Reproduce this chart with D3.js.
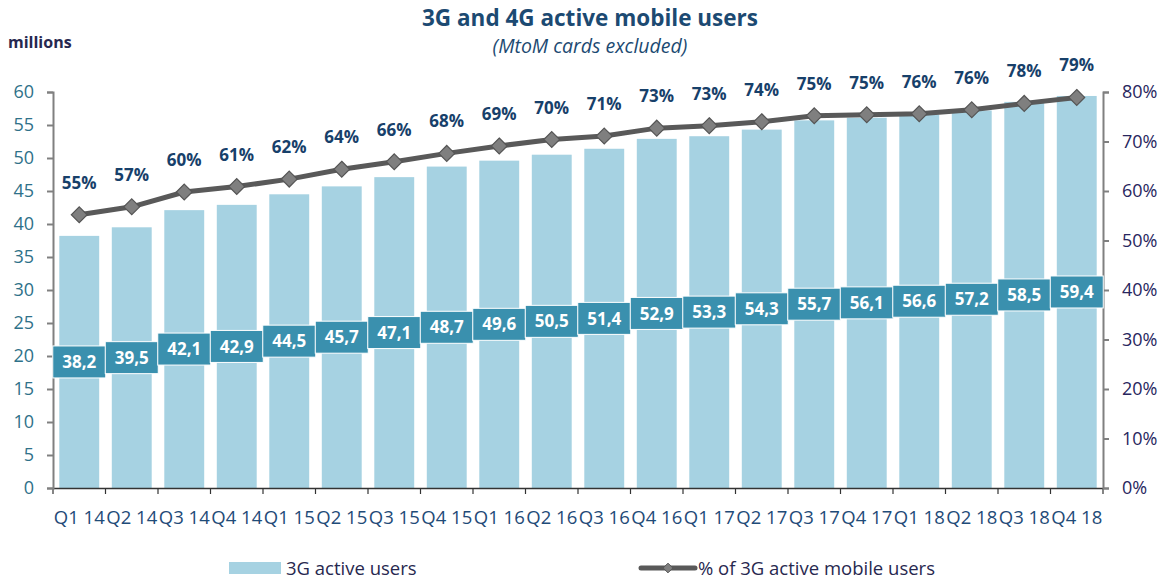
<!doctype html>
<html lang="en">
  <head>
    <meta charset="utf-8">
    <title>3G and 4G active mobile users</title>
    <script src="https://d3js.org/d3.v7.min.js"></script>
    <style>
      body { margin: 0; background: #fff; }
      svg text { font-family: "Open Sans", "Noto Sans", sans-serif; }
    </style>
  </head>
  <body>
    <div id="chart"></div>
    <script>
      // data
      const quarters = ['Q1 14','Q2 14','Q3 14','Q4 14','Q1 15','Q2 15','Q3 15','Q4 15',
                        'Q1 16','Q2 16','Q3 16','Q4 16','Q1 17','Q2 17','Q3 17','Q4 17',
                        'Q1 18','Q2 18','Q3 18','Q4 18'];
      const activeUsers = [38.2, 39.5, 42.1, 42.9, 44.5, 45.7, 47.1, 48.7, 49.6, 50.5,
                           51.4, 52.9, 53.3, 54.3, 55.7, 56.1, 56.6, 57.2, 58.5, 59.4];
      const activeShare = [55.2, 56.8, 59.8, 60.9, 62.4, 64.4, 65.9, 67.6, 69.1, 70.4,
                           71.1, 72.7, 73.2, 74.0, 75.2, 75.4, 75.6, 76.4, 77.7, 78.9];
      const leftTicks = [0, 5, 10, 15, 20, 25, 30, 35, 40, 45, 50, 55, 60];
      const rightTicks = [0, 10, 20, 30, 40, 50, 60, 70, 80];

      const w = 1169;
      const h = 581;
      const plotLeft = 53, plotRight = 1103, plotTop = 92, plotBottom = 488;

      const itFmt = d3.formatLocale({decimal: ',', thousands: '.', grouping: [3], currency: ['', '€']});
      const oneDec = itFmt.format('.1f');

      const svg = d3.select('#chart').append('svg')
          .attr('width', w)
          .attr('height', h)

      const x = d3.scaleBand()
          .domain(quarters)
          .range([plotLeft, plotRight])
          .paddingInner(0.24)
          .paddingOuter(0.12)

      const xBand = d3.scaleBand()
          .domain(quarters)
          .range([plotLeft, plotRight])

      const yLeft = d3.scaleLinear().domain([0, 60]).range([plotBottom, plotTop])
      const yRight = d3.scaleLinear().domain([0, 80]).range([plotBottom, plotTop])

      // title
      svg.append('text')
        .attr('x', 590).attr('y', 26)
        .attr('text-anchor', 'middle')
        .attr('font-size', 22.5).attr('font-weight', 700)
        .attr('fill', '#1c4a72')
        .text('3G and 4G active mobile users')
      svg.append('text')
        .attr('x', 590).attr('y', 53)
        .attr('text-anchor', 'middle')
        .attr('font-size', 19.5).attr('font-style', 'italic')
        .attr('fill', '#1c4a72')
        .text('(MtoM cards excluded)')
      svg.append('text')
        .attr('x', 8).attr('y', 48)
        .attr('font-size', 16).attr('font-weight', 700)
        .attr('fill', '#27284f')
        .text('millions')

      // bars
      svg.selectAll('rect.bar')
        .data(activeUsers)
        .join('rect')
        .attr('class', 'bar')
        .attr('x', (d, i) => x(quarters[i]))
        .attr('y', d => yLeft(d))
        .attr('width', x.bandwidth())
        .attr('height', d => yLeft(0) - yLeft(d))
        .attr('fill', '#a6d2e2')

      // axes
      const xAxis = svg.append('g')
        .attr('transform', 'translate(0,' + plotBottom + ')')
        .call(d3.axisBottom(xBand).tickSize(0).tickPadding(23))
      xAxis.select('.domain').attr('stroke', '#333').attr('stroke-width', 1.5)
      xAxis.selectAll('text').attr('font-size', 18.5).attr('fill', '#1f4b78')
      svg.append('g').selectAll('line')
        .data(d3.range(quarters.length + 1))
        .join('line')
        .attr('x1', i => plotLeft + i * xBand.step())
        .attr('x2', i => plotLeft + i * xBand.step())
        .attr('y1', plotBottom).attr('y2', plotBottom + 6)
        .attr('stroke', '#333').attr('stroke-width', 1.2)

      const yAxisL = svg.append('g')
        .attr('transform', 'translate(' + plotLeft + ',0)')
        .call(d3.axisLeft(yLeft).tickValues(leftTicks).tickSize(6).tickPadding(13))
      yAxisL.selectAll('.domain, line').attr('stroke', '#808080').attr('stroke-width', 2)
      yAxisL.selectAll('text').attr('font-size', 18).attr('fill', '#2f7189')

      const yAxisR = svg.append('g')
        .attr('transform', 'translate(' + plotRight + ',0)')
        .call(d3.axisRight(yRight).tickValues(rightTicks).tickSize(6).tickPadding(13)
          .tickFormat(d => d + '%'))
      yAxisR.selectAll('.domain, line').attr('stroke', '#808080').attr('stroke-width', 2)
      yAxisR.selectAll('text').attr('font-size', 18).attr('fill', '#28265e')
      svg.selectAll('.domain').attr('fill', 'none')

      // value boxes inside bars
      const boxW = 53, boxH = 32;
      const boxes = svg.append('g').selectAll('g')
        .data(activeUsers)
        .join('g')
        .attr('transform', (d, i) => 'translate(' + (xBand(quarters[i]) + xBand.bandwidth() / 2) + ',' + yLeft(d / 2) + ')')
      boxes.append('rect')
        .attr('x', -boxW / 2).attr('y', -boxH / 2)
        .attr('width', boxW).attr('height', boxH)
        .attr('fill', '#3a90ae')
        .attr('stroke', '#fff').attr('stroke-width', 1)
      boxes.append('text')
        .attr('text-anchor', 'middle')
        .attr('dy', '0.36em')
        .attr('font-size', 17).attr('font-weight', 700)
        .attr('fill', '#fff')
        .text(d => oneDec(d))

      // share line
      const cx = i => xBand(quarters[i]) + xBand.bandwidth() / 2;
      const line = d3.line()
        .x((d, i) => cx(i))
        .y(d => yRight(d))
      svg.append('path')
        .datum(activeShare)
        .attr('d', line)
        .attr('fill', 'none')
        .attr('stroke', '#595959')
        .attr('stroke-width', 5)
        .attr('stroke-linejoin', 'round')

      const diamond = d3.symbol().type(d3.symbolDiamond2).size(160)
      svg.append('g').selectAll('path')
        .data(activeShare)
        .join('path')
        .attr('d', diamond)
        .attr('transform', (d, i) => 'translate(' + cx(i) + ',' + yRight(d) + ')')
        .attr('fill', '#7f7f7f')
        .attr('stroke', '#555')
        .attr('stroke-width', 1.2)

      svg.append('g').selectAll('text')
        .data(activeShare)
        .join('text')
        .attr('x', (d, i) => cx(i))
        .attr('y', d => yRight(d) - 26)
        .attr('text-anchor', 'middle')
        .attr('font-size', 17).attr('font-weight', 700)
        .attr('fill', '#17406a')
        .text(d => Math.round(d) + '%')

      // legend
      const legend = svg.append('g')
      legend.append('rect')
        .attr('x', 229).attr('y', 562).attr('width', 52).attr('height', 12)
        .attr('fill', '#a6d2e2')
      legend.append('text')
        .attr('x', 286).attr('y', 575)
        .attr('font-size', 18.5).attr('fill', '#27284f')
        .text('3G active users')
      legend.append('line')
        .attr('x1', 641).attr('x2', 695).attr('y1', 568).attr('y2', 568)
        .attr('stroke', '#595959').attr('stroke-width', 5).attr('stroke-linecap', 'round')
      legend.append('path')
        .attr('d', d3.symbol().type(d3.symbolDiamond2).size(60))
        .attr('transform', 'translate(668,568)')
        .attr('fill', '#7f7f7f').attr('stroke', '#555')
      legend.append('text')
        .attr('x', 698).attr('y', 575)
        .attr('font-size', 18.5).attr('fill', '#27284f')
        .text('% of 3G active mobile users')
    </script>
  </body>
</html>
